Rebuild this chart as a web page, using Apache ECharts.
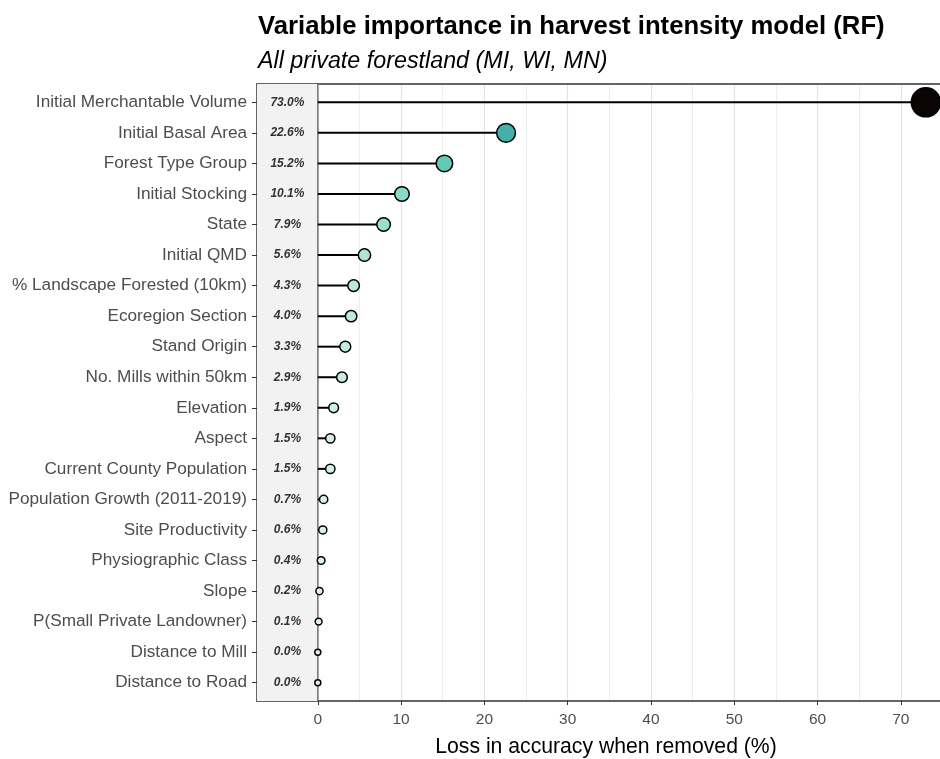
<!DOCTYPE html>
<html lang="en">
<head>
<meta charset="UTF-8">
<title>Variable importance in harvest intensity model (RF)</title>
<script src="https://cdn.jsdelivr.net/npm/echarts@6/dist/echarts.min.js"></script>
<style>html, body { margin: 0; padding: 0; background: #fff; }</style>
</head>
<body>
<div id="chart" style="width: 940px; height: 759px;"></div>
<script>
// rows, top to bottom
var variables = [
    'Initial Merchantable Volume', 'Initial Basal Area', 'Forest Type Group',
    'Initial Stocking', 'State', 'Initial QMD', '% Landscape Forested (10km)',
    'Ecoregion Section', 'Stand Origin', 'No. Mills within 50km', 'Elevation',
    'Aspect', 'Current County Population', 'Population Growth (2011-2019)',
    'Site Productivity', 'Physiographic Class', 'Slope',
    'P(Small Private Landowner)', 'Distance to Mill', 'Distance to Road'
];
// loss in accuracy when removed (%)
var importance = [73.0, 22.6, 15.2, 10.1, 7.9, 5.6, 4.3, 4.0, 3.3, 2.9,
                  1.9, 1.5, 1.5, 0.7, 0.6, 0.4, 0.2, 0.1, 0.0, 0.0];
var xTicks = [0, 10, 20, 30, 40, 50, 60, 70];
var xMinorTicks = [5, 15, 25, 35, 45, 55, 65, 75];
var xMin = -7.3, xMax = 76.5;
var makoRev = ['#DEF5E5', '#49C1AD', '#357BA2', '#3E356B', '#0B0405'];

var font = "'Liberation Sans', Arial, Helvetica, sans-serif";
var chart = echarts.init(document.getElementById('chart'));

var rowIdx = variables.map(function (n, i) { return i; });
var points = importance.map(function (v, i) { return [v, i]; });
var borderLine = { color: '#333333', width: 1.5 };

chart.setOption({
    animation: false,
    title: [
        {
            text: 'Variable importance in harvest intensity model (RF)',
            left: 258, top: 12, padding: 0,
            textStyle: { fontFamily: font, fontSize: 25.7, fontWeight: 'bold', color: '#000', lineHeight: 30 }
        },
        {
            text: 'All private forestland (MI, WI, MN)',
            left: 258, top: 48, padding: 0,
            textStyle: { fontFamily: font, fontSize: 23.3, fontStyle: 'italic', fontWeight: 'normal', color: '#000', lineHeight: 28 }
        }
    ],
    grid: { left: 257, right: -15, top: 84, bottom: 58, outerBoundsMode: 'none', containLabel: false },
    xAxis: [
        {
            type: 'value', min: xMin, max: xMax,
            name: 'Loss in accuracy when removed (%)',
            nameLocation: 'middle', nameGap: 36,
            nameTextStyle: { fontFamily: font, fontSize: 21.2, color: '#000' },
            axisLine: { show: true, onZero: false, lineStyle: borderLine },
            axisTick: { show: true, length: 4, customValues: xTicks, lineStyle: { color: '#333333', width: 1 } },
            axisLabel: { customValues: xTicks, fontFamily: font, fontSize: 15.5, color: '#4d4d4d', margin: 11 },
            splitLine: { show: true, lineStyle: { color: '#e3e3e3', width: 1.2 } }
        },
        {
            type: 'value', min: xMin, max: xMax, position: 'top',
            axisLine: { show: true, onZero: false, lineStyle: borderLine },
            axisTick: { show: false, customValues: xMinorTicks },
            axisLabel: { show: false, customValues: xMinorTicks },
            splitLine: { show: true, lineStyle: { color: '#eeeeee', width: 1 } }
        }
    ],
    yAxis: {
        type: 'value', min: -0.6, max: variables.length - 0.4, inverse: true,
        axisLine: { show: true, onZero: false, lineStyle: borderLine },
        axisTick: { show: true, length: 5, customValues: rowIdx, lineStyle: { color: '#333333', width: 1 } },
        axisLabel: {
            customValues: rowIdx, fontFamily: font, fontSize: 17.2, color: '#4d4d4d', margin: 10,
            formatter: function (v) { return variables[v] || ''; }
        },
        splitLine: { show: false }
    },
    visualMap: {
        show: false, type: 'continuous', dimension: 0, seriesIndex: 2,
        min: 0, max: Math.max.apply(null, importance),
        inRange: { color: makoRev }
    },
    series: [
        {
            // grey label strip left of zero and the zero line
            type: 'custom', z: 1, silent: true,
            data: [[xMin, 0]],
            renderItem: function (params, api) {
                var cs = params.coordSys;
                var x0 = api.coord([xMin, 0])[0];
                var xz = api.coord([0, 0])[0];
                return {
                    type: 'group',
                    children: [
                        { type: 'rect', shape: { x: x0, y: cs.y, width: xz - x0, height: cs.height },
                          style: { fill: '#f2f2f2' } },
                        { type: 'line', shape: { x1: xz, y1: cs.y, x2: xz, y2: cs.y + cs.height },
                          style: { stroke: '#777777', lineWidth: 1.5 } }
                    ]
                };
            }
        },
        {
            // stems + value labels
            type: 'custom', z: 2, silent: true,
            data: points,
            renderItem: function (params, api) {
                var v = api.value(0), row = api.value(1);
                var p0 = api.coord([0, row]);
                var p1 = api.coord([v, row]);
                var pl = api.coord([xMin / 2, row]);
                return {
                    type: 'group',
                    children: [
                        { type: 'line', shape: { x1: p0[0], y1: p0[1], x2: p1[0], y2: p1[1] },
                          style: { stroke: '#000', lineWidth: 2 } },
                        { type: 'text', x: pl[0], y: pl[1],
                          style: { text: v.toFixed(1) + '%', align: 'center', verticalAlign: 'middle',
                                   fontFamily: font, fontSize: 12, fontStyle: 'italic', fontWeight: 'bold',
                                   fill: '#333333' } }
                    ]
                };
            }
        },
        {
            type: 'scatter', z: 3, silent: true,
            data: points,
            symbolSize: function (d) { return 6 + 2.7 * Math.sqrt(d[0]); },
            itemStyle: { borderColor: '#000', borderWidth: 1.5, opacity: 1 }
        }
    ]
});
</script>
</body>
</html>
